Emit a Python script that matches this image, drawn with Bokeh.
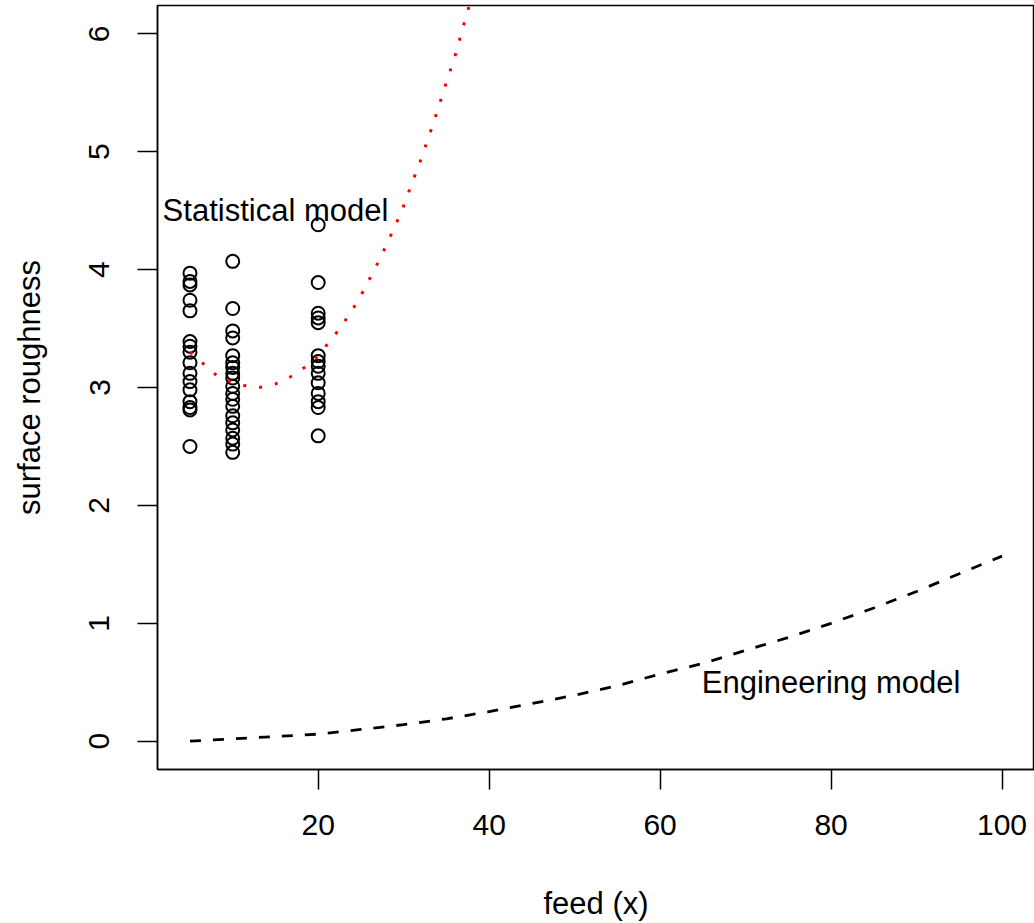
from bokeh.plotting import figure
from bokeh.models import Range1d, FixedTicker
from bokeh.core.properties import value
from bokeh.embed import file_html
from bokeh.resources import INLINE

# Measured surface roughness at each feed level
feed_levels = [5, 10, 20]
roughness_f5 = [3.97, 3.90, 3.87, 3.74, 3.65, 3.39, 3.35, 3.30, 3.21, 3.12,
                3.05, 2.98, 2.88, 2.83, 2.81, 2.50]
roughness_f10 = [4.07, 3.67, 3.48, 3.42, 3.27, 3.21, 3.17, 3.12, 3.08, 3.01,
                 2.95, 2.90, 2.84, 2.76, 2.70, 2.64, 2.57, 2.52, 2.45]
roughness_f20 = [4.38, 3.89, 3.63, 3.59, 3.55, 3.27, 3.22, 3.18, 3.12, 3.04,
                 2.95, 2.88, 2.83, 2.59]

# Statistical model curve
stat_feed = list(range(5, 39))
stat_roughness = [3.30, 3.24, 3.17, 3.11, 3.07, 3.04, 3.02, 3.01, 3.00, 3.01,
                  3.03, 3.06, 3.10, 3.15, 3.20, 3.27, 3.36, 3.45, 3.55, 3.66,
                  3.78, 3.92, 4.06, 4.21, 4.37, 4.54, 4.74, 4.93, 5.14, 5.36,
                  5.59, 5.81, 6.07, 6.32]

# Engineering model curve
eng_feed = [5, 10, 15, 20, 25, 30, 35, 40, 45, 50, 55, 60, 65, 70, 75, 80,
            85, 90, 95, 100]
eng_roughness = [0.00, 0.02, 0.04, 0.06, 0.10, 0.14, 0.19, 0.25, 0.32, 0.39,
                 0.47, 0.57, 0.66, 0.77, 0.88, 1.00, 1.13, 1.27, 1.42, 1.57]

x_ticks = [20, 40, 60, 80, 100]
y_ticks = [0, 1, 2, 3, 4, 5, 6]

FONT = "Liberation Sans"

p = figure(width=1034, height=923, output_backend="svg", toolbar_location=None,
           x_range=Range1d(1.2, 103.8), y_range=Range1d(-0.24, 6.24),
           min_border_left=157, min_border_right=0, min_border_top=5,
           min_border_bottom=153)
p.background_fill_color = "white"
p.border_fill_color = "white"
p.outline_line_color = "black"
p.outline_line_width = 1.5
p.xgrid.visible = False
p.ygrid.visible = False

# observations
obs_x = []
obs_y = []
for f, vals in zip(feed_levels, [roughness_f5, roughness_f10, roughness_f20]):
    obs_x += [f] * len(vals)
    obs_y += vals
p.scatter(obs_x, obs_y, marker="circle", size=13, fill_color=None,
          line_color="black", line_width=2)

# model curves
p.line(stat_feed, stat_roughness, line_color="red", line_width=3,
       line_dash="3 13")
p.line(eng_feed, eng_roughness, line_color="black", line_width=2.8,
       line_dash="11 12")

p.text(x=[15], y=[4.5], text=["Statistical model"], text_align="center",
       text_baseline="middle", text_font=value(FONT), text_font_size="31px",
       text_color="black")
p.text(x=[80], y=[0.5], text=["Engineering model"], text_align="center",
       text_baseline="middle", text_font=value(FONT), text_font_size="31px",
       text_color="black")

for ax in (p.xaxis[0], p.yaxis[0]):
    ax.axis_line_width = 1.5
    ax.major_tick_line_width = 1.5
    ax.major_tick_out = 20
    ax.major_tick_in = 0
    ax.minor_tick_out = 0
    ax.minor_tick_in = 0
    ax.major_label_text_font = FONT
    ax.major_label_text_font_size = "30px"
    ax.major_label_text_color = "black"
    ax.axis_label_text_font = FONT
    ax.axis_label_text_font_size = "31px"
    ax.axis_label_text_font_style = "normal"
    ax.axis_label_text_color = "black"

p.xaxis.ticker = FixedTicker(ticks=x_ticks)
p.yaxis.ticker = FixedTicker(ticks=y_ticks)
p.xaxis.axis_label = "feed (x)"
p.yaxis.axis_label = "surface roughness"
p.xaxis.major_label_standoff = 25
p.xaxis.axis_label_standoff = 48
p.yaxis.major_label_orientation = "vertical"
p.yaxis.major_label_standoff = 28
p.yaxis.axis_label_standoff = 40

open("out.html", "w").write(file_html(p, INLINE))
